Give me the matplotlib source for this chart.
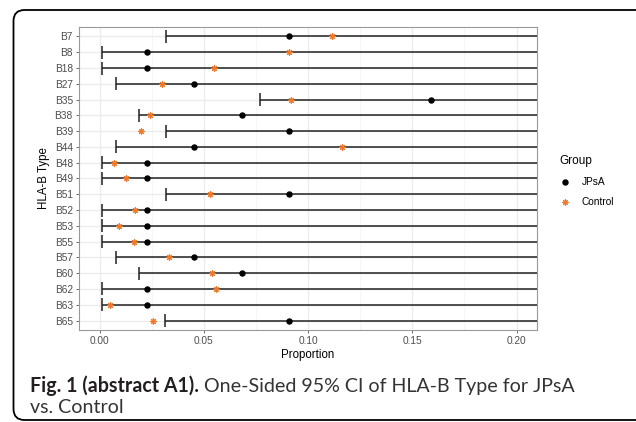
import matplotlib
matplotlib.use("Agg")
import matplotlib.pyplot as plt
from matplotlib.patches import FancyBboxPatch
from matplotlib.lines import Line2D
import numpy as np

plt.rcParams['font.family'] = ['Liberation Sans', 'DejaVu Sans']

hla_types = ["B7", "B8", "B18", "B27", "B35", "B38", "B39", "B44", "B48", "B49",
             "B51", "B52", "B53", "B55", "B57", "B60", "B62", "B63", "B65"]
lower_ci = [0.0317, 0.001, 0.001, 0.0078, 0.0769, 0.0187, 0.0317, 0.0078, 0.001, 0.001,
            0.0317, 0.001, 0.001, 0.001, 0.0078, 0.0187, 0.001, 0.001, 0.0315]
upper_ci = [1.0] * len(hla_types)
jpsa = [0.0909, 0.0227, 0.0227, 0.0455, 0.1591, 0.0682, 0.0909, 0.0455, 0.0227, 0.0227,
        0.0909, 0.0227, 0.0227, 0.0227, 0.0455, 0.0682, 0.0227, 0.0227, 0.0909]
control = [0.1116, 0.0908, 0.0548, 0.0299, 0.0918, 0.0243, 0.0200, 0.1161, 0.0069, 0.0125,
           0.0528, 0.0168, 0.0093, 0.0166, 0.0334, 0.0539, 0.0558, 0.0049, 0.0254]
x_ticks = [0.00, 0.05, 0.10, 0.15, 0.20]
x_tick_labels = ["0.00", "0.05", "0.10", "0.15", "0.20"]

ORANGE = "#EE7A2A"
CAP_FONT = ["Lato", "DejaVu Sans"]

W, H = 636, 422
fig = plt.figure(figsize=(W / 100, H / 100), dpi=100)

# background axes in pixel coordinates
bg = fig.add_axes([0, 0, 1, 1], zorder=-5)
bg.set_xlim(0, W)
bg.set_ylim(H, 0)
bg.axis("off")
box = FancyBboxPatch((13.5, 10), 660, 410, boxstyle="round,pad=0,rounding_size=11",
                     fc="white", ec="black", lw=1.3)
bg.add_patch(box)
CAP_SIZE = 14.1
CAP_X = 30
bg.text(CAP_X, 392, "Fig. 1 (abstract A1).", fontsize=CAP_SIZE, fontweight="bold",
        family=CAP_FONT, color="#231F20", va="baseline", ha="left")
t1 = bg.text(0, 0, "Fig. 1 (abstract A1). ", fontsize=CAP_SIZE, fontweight="bold",
             family=CAP_FONT, alpha=0)
fig.canvas.draw()
bb = t1.get_window_extent()
t1.remove()
bg.text(CAP_X + bb.width, 392, "One-Sided 95% CI of HLA-B Type for JPsA", fontsize=CAP_SIZE,
        family=CAP_FONT, color="#333333", va="baseline", ha="left")
bg.text(CAP_X, 413, "vs. Control", fontsize=CAP_SIZE, family=CAP_FONT,
        color="#333333", va="baseline", ha="left")

# main panel
ax = fig.add_axes([79 / W, 1 - 330 / H, (537 - 79) / W, (330 - 27) / H])
y = np.arange(len(hla_types))
n = len(hla_types)
ax.set_ylim(n - 1 + 0.6, -0.6)
ax.set_xlim(-0.0099, 0.2098)

ax.set_xticks(x_ticks)
ax.set_xticklabels(x_tick_labels)
ax.set_xticks([0.025, 0.075, 0.125, 0.175], minor=True)
ax.set_yticks(y)
ax.set_yticklabels(hla_types)
ax.grid(True, which="major", color="#EBEBEB", lw=0.9)
ax.grid(True, which="minor", axis="x", color="#F3F3F3", lw=0.5)
ax.set_axisbelow(True)
ax.tick_params(which="major", length=2.5, width=0.6, color="#555555",
               labelcolor="#4D4D4D", labelsize=7.3, pad=2)
ax.tick_params(which="minor", length=0)
for s in ax.spines.values():
    s.set_color("#999999")
    s.set_linewidth(0.8)

ax.hlines(y, lower_ci, upper_ci, color="#222222", lw=1.1, zorder=3)
ax.vlines(lower_ci, y - 0.41, y + 0.41, color="#222222", lw=1.1, zorder=3)
ax.plot(jpsa, y, "o", color="black", ms=3.6, zorder=4, ls="none")
ax.plot(control, y, marker=(8, 2, 0), color=ORANGE, ms=4.6, mew=0.8, ls="none", zorder=5)

ax.set_xlabel("Proportion", fontsize=8.3, color="black", labelpad=2)
ax.set_ylabel("HLA-B Type", fontsize=8.3, color="black", labelpad=3)

handles = [Line2D([], [], marker="o", color="black", ms=3.6, ls="none"),
           Line2D([], [], marker=(8, 2, 0), color=ORANGE, ms=4.6, mew=0.8, ls="none")]
leg = fig.legend(handles, ["JPsA", "Control"], title="Group", loc="upper left",
                 bbox_to_anchor=(550 / W, 1 - 146 / H), frameon=False, fontsize=7.3,
                 title_fontsize=8.5, handletextpad=1.0, labelspacing=1.0, handlelength=1.2)
leg._legend_box.align = "left"

fig.savefig("out.png", dpi=100)
